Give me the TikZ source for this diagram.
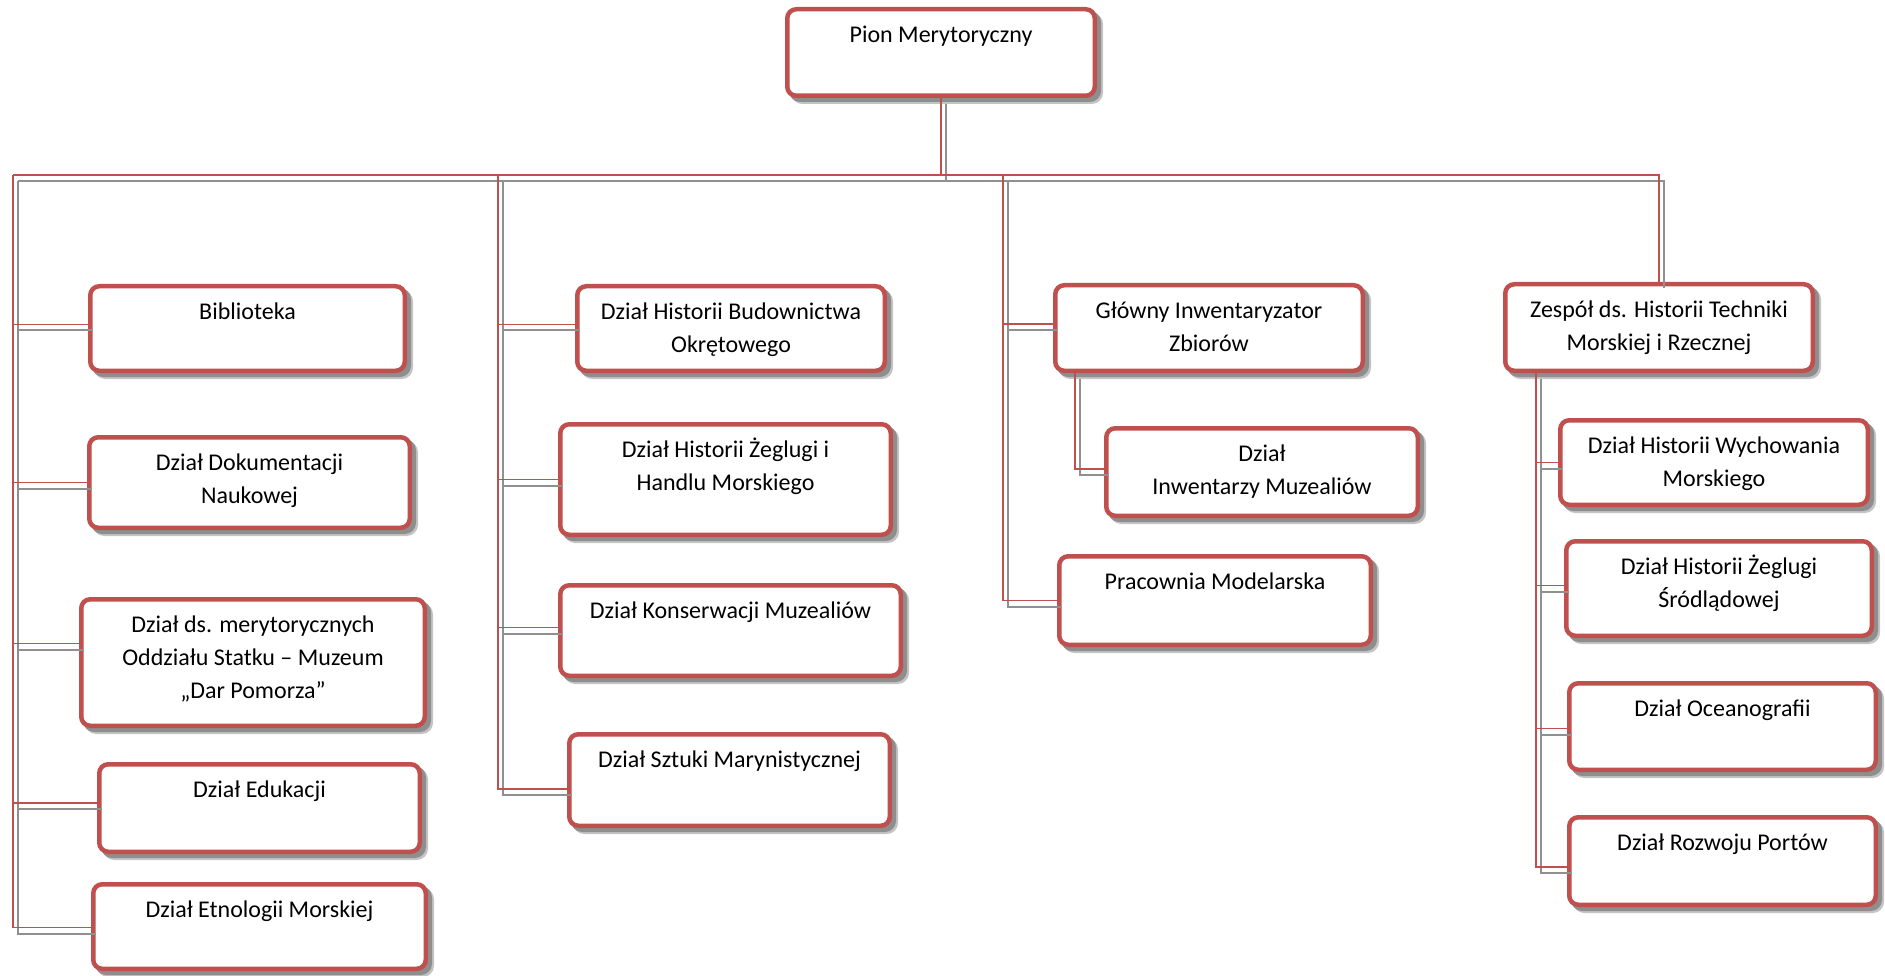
\documentclass[tikz,border=0pt]{standalone}
\usepackage{fontspec}
\setmainfont{Carlito}
\usetikzlibrary{calc}
\definecolor{boxred}{HTML}{C0504D}
\definecolor{linegray}{HTML}{909090}
\definecolor{shadowgray}{HTML}{8E8E8E}
\definecolor{shadowlight}{HTML}{C4C4C4}
\tikzset{
  unitbox/.style={draw=boxred, line width=4.5pt, rounded corners=9pt, fill=white, inner sep=0pt,
    preaction={draw=shadowlight, fill=shadowlight, transform canvas={shift={(6pt,-6pt)}}},
    preaction={draw=shadowgray, fill=shadowgray, transform canvas={shift={(4pt,-4pt)}}}},
  unittext/.style={anchor=north, inner sep=0pt, align=center, text=black,
    font=\fontsize{24}{33}\selectfont},
  conn/.style={draw=boxred, line width=1.6pt,
    preaction={draw=linegray, line width=2pt, transform canvas={shift={(5pt,-6pt)}}}}
}
\newcommand\orgunit[6]{%
  \node[unitbox, minimum width={(#4-#2-4.5)*1pt}, minimum height={(#5-#3-4.5)*1pt}]
    (#1) at ({(#2+#4)/2},{(#3+#5)/2}) {};
  \node[unittext] (#1-t) at ([yshift=-14.5pt]#1.north) {\rule{0pt}{21pt}#6};
}
\begin{document}
\begin{tikzpicture}[x=1pt,y=-1pt]
\useasboundingbox (0,0) rectangle (1885,976);
% boxes
\orgunit{pion}{785}{7}{1097}{98}{Pion Merytoryczny}
\orgunit{bib}{88}{284}{407}{373}{Biblioteka}
\orgunit{dok}{87}{435}{412}{530}{Dział Dokumentacji\\Naukowej}
\orgunit{mer}{79}{597}{427}{728}{Dział ds. merytorycznych\\Oddziału Statku – Muzeum\\„Dar Pomorza”}
\orgunit{edu}{97}{762}{422}{854}{Dział Edukacji}
\orgunit{etn}{91}{882}{428}{971}{Dział Etnologii Morskiej}
\orgunit{bud}{575}{284}{887}{373}{Dział Historii Budownictwa\\Okrętowego}
\orgunit{zeg}{558}{422}{893}{537}{Dział Historii Żeglugi i\\Handlu Morskiego}
\orgunit{kon}{558}{583}{903}{678}{Dział Konserwacji Muzealiów}
\orgunit{szt}{567}{732}{892}{828}{Dział Sztuki Marynistycznej}
\orgunit{glo}{1053}{283}{1365}{373}{Główny Inwentaryzator\\Zbiorów}
\orgunit{inw}{1104}{426}{1420}{518}{Dział\\Inwentarzy Muzealiów}
\orgunit{pra}{1057}{554}{1373}{647}{Pracownia Modelarska}
\orgunit{zes}{1503}{282}{1815}{373}{Zespół ds. Historii Techniki\\Morskiej i Rzecznej}
\orgunit{wyc}{1558}{418}{1870}{507}{Dział Historii Wychowania\\Morskiego}
\orgunit{sro}{1564}{539}{1874}{638}{Dział Historii Żeglugi\\Śródlądowej}
\orgunit{oce}{1567}{681}{1878}{772}{Dział Oceanografii}
\orgunit{por}{1567}{815}{1878}{907}{Dział Rozwoju Portów}
% bus coordinates
\coordinate (c1) at (13,175);
\coordinate (c2) at (498,175);
\coordinate (c3) at (1003,175);
\coordinate (c4) at (zes.north |- c1);
\coordinate (gloA) at ($(glo.south west)+(22,0)$);
\coordinate (zesA) at ($(zes.south west)+(33,0)$);
% connectors
\draw[conn] (pion.south) -- (pion.south |- c1);
\draw[conn] (c1) -- (c4) -- (zes.north);
% column 1
\draw[conn] (c1) |- ([yshift=-1pt]etn.west);
\draw[conn] ($(c1 |- bib.west)+(0,-4)$) -- ([yshift=4pt]bib.west);
\draw[conn] (c1 |- dok.west) -- (dok.west);
\draw[conn] ($(c1 |- mer.west)+(0,-19)$) -- ([yshift=19pt]mer.west);
\draw[conn] ($(c1 |- edu.west)+(0,-5)$) -- ([yshift=5pt]edu.west);
% column 2
\draw[conn] (c2) |- ([yshift=-9pt]szt.west);
\draw[conn] ($(c2 |- bud.west)+(0,-4)$) -- ([yshift=4pt]bud.west);
\draw[conn] (c2 |- zeg.west) -- (zeg.west);
\draw[conn] ($(c2 |- kon.west)+(0,-3)$) -- ([yshift=3pt]kon.west);
% column 3
\draw[conn] (c3) |- (pra.west);
\draw[conn] ($(c3 |- glo.west)+(0,-4)$) -- ([yshift=4pt]glo.west);
\draw[conn] (gloA) |- ([yshift=3pt]inw.west);
% column 4
\draw[conn] (zesA) |- ([yshift=-6pt]por.west);
\draw[conn] (zesA |- wyc.west) -- (wyc.west);
\draw[conn] ($(zesA |- sro.west)+(0,-3)$) -- ([yshift=3pt]sro.west);
\draw[conn] ($(zesA |- oce.west)+(0,2)$) -- ([yshift=-2pt]oce.west);
\end{tikzpicture}
\end{document}
